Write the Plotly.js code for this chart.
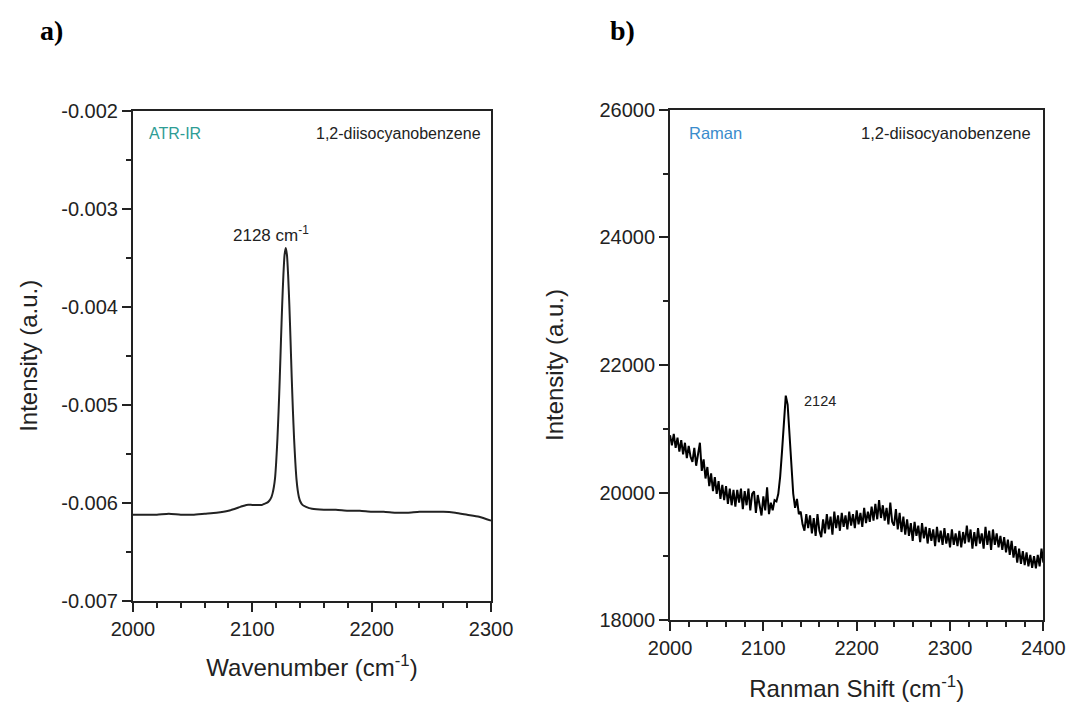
<!DOCTYPE html>
<html>
<head>
<meta charset="utf-8">
<script src="https://cdn.plot.ly/plotly-3.0.1.min.js"></script>
<style>
  html, body { margin: 0; padding: 0; background: #fff; }
  #chart { width: 1070px; height: 704px; }
</style>
</head>
<body>
<div id="chart"></div>
<script>
// ---- Panel a: ATR-IR spectrum ----
const atrWavenumber = [2000, 2010, 2020, 2030, 2040, 2050, 2060, 2070, 2080, 2090, 2095, 2100, 2105, 2108, 2110, 2112, 2114, 2116, 2117, 2118, 2119, 2120, 2121, 2122, 2123, 2124, 2125, 2126, 2127, 2128, 2129, 2130, 2131, 2132, 2133, 2134, 2135, 2136, 2137, 2138, 2139, 2140, 2142, 2145, 2150, 2160, 2170, 2180, 2190, 2200, 2210, 2220, 2230, 2240, 2250, 2260, 2270, 2280, 2290, 2300];
const atrIntensity = [-0.00612, -0.00612, -0.00612, -0.00611, -0.00612, -0.00612, -0.00611, -0.00610, -0.00608, -0.00604, -0.00602, -0.00602, -0.00602, -0.00602, -0.00601, -0.00600, -0.00598, -0.00594, -0.00590, -0.00584, -0.00575, -0.00558, -0.00535, -0.00506, -0.00472, -0.00434, -0.00398, -0.00368, -0.00347, -0.00340, -0.00347, -0.00368, -0.00398, -0.00434, -0.00472, -0.00506, -0.00535, -0.00558, -0.00576, -0.00587, -0.00594, -0.00598, -0.00602, -0.00604, -0.00606, -0.00607, -0.00607, -0.00608, -0.00608, -0.00609, -0.00609, -0.00610, -0.00610, -0.00609, -0.00609, -0.00609, -0.00610, -0.00612, -0.00614, -0.00618];
const atrYTickVals = [-0.007, -0.006, -0.005, -0.004, -0.003, -0.002];
const atrYTickText = ["-0.007", "-0.006", "-0.005", "-0.004", "-0.003", "-0.002"];
const atrXTickVals = [2000, 2100, 2200, 2300];

// ---- Panel b: Raman spectrum ----
const ramanShift = [2000, 2002, 2004, 2006, 2008, 2010, 2012, 2014, 2016, 2018, 2020, 2022, 2024, 2026, 2028, 2030, 2032, 2034, 2036, 2038, 2040, 2042, 2044, 2046, 2048, 2050, 2052, 2054, 2056, 2058, 2060, 2062, 2064, 2066, 2068, 2070, 2072, 2074, 2076, 2078, 2080, 2082, 2084, 2086, 2088, 2090, 2092, 2094, 2096, 2098, 2100, 2102, 2104, 2106, 2108, 2110, 2112, 2114, 2116, 2118, 2120, 2122, 2124, 2126, 2128, 2130, 2132, 2134, 2136, 2138, 2140, 2142, 2144, 2146, 2148, 2150, 2152, 2154, 2156, 2158, 2160, 2162, 2164, 2166, 2168, 2170, 2172, 2174, 2176, 2178, 2180, 2182, 2184, 2186, 2188, 2190, 2192, 2194, 2196, 2198, 2200, 2202, 2204, 2206, 2208, 2210, 2212, 2214, 2216, 2218, 2220, 2222, 2224, 2226, 2228, 2230, 2232, 2234, 2236, 2238, 2240, 2242, 2244, 2246, 2248, 2250, 2252, 2254, 2256, 2258, 2260, 2262, 2264, 2266, 2268, 2270, 2272, 2274, 2276, 2278, 2280, 2282, 2284, 2286, 2288, 2290, 2292, 2294, 2296, 2298, 2300, 2302, 2304, 2306, 2308, 2310, 2312, 2314, 2316, 2318, 2320, 2322, 2324, 2326, 2328, 2330, 2332, 2334, 2336, 2338, 2340, 2342, 2344, 2346, 2348, 2350, 2352, 2354, 2356, 2358, 2360, 2362, 2364, 2366, 2368, 2370, 2372, 2374, 2376, 2378, 2380, 2382, 2384, 2386, 2388, 2390, 2392, 2394, 2396, 2398, 2400];
const ramanIntensity = [20900, 20740, 20920, 20700, 20860, 20640, 20820, 20600, 20780, 20540, 20730, 20560, 20480, 20700, 20420, 20600, 20780, 20340, 20520, 20220, 20400, 20100, 20300, 20020, 20240, 19980, 20180, 19900, 20120, 19880, 20100, 19820, 20060, 19800, 20040, 19780, 20040, 19840, 20060, 19740, 20020, 19800, 20060, 19720, 19980, 20020, 19680, 19960, 19760, 19640, 19940, 19720, 20080, 19660, 19840, 19720, 19880, 19860, 19980, 20250, 20650, 21150, 21520, 21380, 20900, 20350, 19980, 19760, 19900, 19660, 19700, 19500, 19400, 19660, 19440, 19640, 19360, 19600, 19320, 19660, 19400, 19300, 19580, 19360, 19660, 19420, 19620, 19340, 19700, 19440, 19640, 19400, 19680, 19460, 19640, 19420, 19700, 19480, 19660, 19440, 19720, 19500, 19680, 19460, 19760, 19520, 19700, 19540, 19780, 19560, 19820, 19580, 19880, 19600, 19800, 19560, 19760, 19500, 19840, 19540, 19480, 19740, 19420, 19680, 19380, 19620, 19340, 19580, 19320, 19520, 19240, 19540, 19320, 19480, 19220, 19520, 19280, 19460, 19200, 19440, 19240, 19420, 19160, 19460, 19220, 19400, 19180, 19440, 19200, 19360, 19140, 19420, 19180, 19360, 19160, 19400, 19140, 19380, 19200, 19480, 19220, 19420, 19120, 19380, 19160, 19440, 19200, 19360, 19120, 19460, 19180, 19400, 19100, 19420, 19180, 19360, 19140, 19320, 19100, 19300, 19060, 19260, 19020, 19240, 18980, 19160, 18900, 19120, 18880, 19080, 18860, 19060, 18840, 19020, 18820, 19000, 18810, 19020, 18840, 19120, 18900];
const ramanYTickVals = [18000, 20000, 22000, 24000, 26000];
const ramanXTickVals = [2000, 2100, 2200, 2300, 2400];

const FONT = "Liberation Sans, Arial, Helvetica, sans-serif";
const INK = "#222222";

function axisStyle(extra) {
  return Object.assign({
    showline: true, linecolor: INK, linewidth: 2, mirror: true,
    ticks: "outside", ticklen: 9, tickwidth: 2, tickcolor: INK,
    showgrid: false, zeroline: false,
    tickfont: { family: FONT, size: 20, color: INK },
    fixedrange: true
  }, extra);
}

const traces = [
  { x: atrWavenumber, y: atrIntensity, xaxis: "x", yaxis: "y", type: "scatter", mode: "lines",
    line: { color: INK, width: 2, shape: "spline", smoothing: 0.6 }, hoverinfo: "skip" },
  { x: ramanShift, y: ramanIntensity, xaxis: "x2", yaxis: "y2", type: "scatter", mode: "lines",
    line: { color: "#000000", width: 2 }, hoverinfo: "skip" }
];

const layout = {
  width: 1070, height: 704,
  margin: { l: 0, r: 0, t: 0, b: 0 },
  paper_bgcolor: "#ffffff", plot_bgcolor: "#ffffff",
  showlegend: false,
  font: { family: FONT, color: INK },
  xaxis: axisStyle({
    domain: [0.1243, 0.4589], anchor: "y", range: [2000, 2300],
    tickmode: "array", tickvals: atrXTickVals,
    minor: { tickmode: "linear", tick0: 2000, dtick: 20, ticks: "outside", ticklen: 5, tickwidth: 2, tickcolor: INK, showgrid: false },
    title: { text: "Wavenumber (cm<sup>-1</sup>)", font: { family: FONT, size: 24, color: INK }, standoff: 20 }
  }),
  yaxis: axisStyle({
    domain: [0.1463, 0.8428], anchor: "x", range: [-0.007, -0.002],
    tickmode: "array", tickvals: atrYTickVals, ticktext: atrYTickText,
    minor: { tickmode: "linear", tick0: -0.007, dtick: 0.0005, ticks: "outside", ticklen: 5, tickwidth: 2, tickcolor: INK, showgrid: false },
    title: { text: "Intensity (a.u.)", font: { family: FONT, size: 24, color: INK }, standoff: 17 }
  }),
  xaxis2: axisStyle({
    domain: [0.6262, 0.9751], anchor: "y2", range: [2000, 2400],
    tickmode: "array", tickvals: ramanXTickVals,
    minor: { tickmode: "linear", tick0: 2000, dtick: 20, ticks: "outside", ticklen: 5, tickwidth: 2, tickcolor: INK, showgrid: false },
    title: { text: "Ranman Shift (cm<sup>-1</sup>)", font: { family: FONT, size: 24, color: INK }, standoff: 22 }
  }),
  yaxis2: axisStyle({
    domain: [0.1193, 0.8438], anchor: "x2", range: [18000, 26000],
    tickmode: "array", tickvals: ramanYTickVals, ticktext: ramanYTickVals.map(String),
    minor: { tickmode: "linear", tick0: 18000, dtick: 1000, ticks: "outside", ticklen: 5, tickwidth: 2, tickcolor: INK, showgrid: false },
    title: { text: "Intensity (a.u.)", font: { family: FONT, size: 24, color: INK }, standoff: 29 }
  }),
  annotations: [
    { text: "<b>a)</b>", xref: "paper", yref: "paper", x: 0.048, y: 0.957, xanchor: "center", yanchor: "middle", showarrow: false,
      font: { family: "Liberation Serif, Times New Roman, serif", size: 28, color: "#000" } },
    { text: "<b>b)</b>", xref: "paper", yref: "paper", x: 0.582, y: 0.957, xanchor: "center", yanchor: "middle", showarrow: false,
      font: { family: "Liberation Serif, Times New Roman, serif", size: 28, color: "#000" } },
    { text: "ATR-IR", xref: "x domain", yref: "y domain", x: 0.038, y: 0.953, xanchor: "left", yanchor: "middle",
      showarrow: false, font: { family: FONT, size: 16, color: "#2e9d95" } },
    { text: "1,2-diisocyanobenzene", xref: "x domain", yref: "y domain", x: 0.977, y: 0.953, xanchor: "right", yanchor: "middle",
      showarrow: false, font: { family: FONT, size: 16, color: INK } },
    { text: "2128 cm<sup>-1</sup>", xref: "x", yref: "y", x: 2116, y: -0.00326, xanchor: "center", yanchor: "middle",
      showarrow: false, font: { family: FONT, size: 17, color: INK } },
    { text: "Raman", xref: "x2 domain", yref: "y2 domain", x: 0.0455, y: 0.954, xanchor: "left", yanchor: "middle",
      showarrow: false, font: { family: FONT, size: 16.5, color: "#3a8ccc" } },
    { text: "1,2-diisocyanobenzene", xref: "x2 domain", yref: "y2 domain", x: 0.9716, y: 0.954, xanchor: "right", yanchor: "middle",
      showarrow: false, font: { family: FONT, size: 16.5, color: INK } },
    { text: "2124", xref: "x2", yref: "y2", x: 2141, y: 21435, xanchor: "left", yanchor: "middle",
      showarrow: false, font: { family: FONT, size: 14.5, color: INK } }
  ]
};

Plotly.newPlot("chart", traces, layout, { staticPlot: true, displayModeBar: false });
</script>
</body>
</html>
